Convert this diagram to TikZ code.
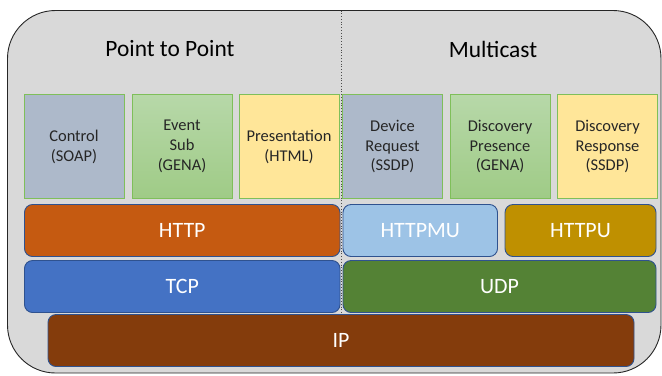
\documentclass[tikz,border=0pt]{standalone}
\usepackage{fontspec}
\setmainfont{Carlito}
\definecolor{outerfill}{HTML}{D9D9D9}
\definecolor{bgray}{HTML}{ADB9CA}
\definecolor{gtop}{HTML}{B7D8A9}
\definecolor{gbot}{HTML}{9FCB86}
\definecolor{ylw}{HTML}{FFE699}
\definecolor{boxedge}{HTML}{7FBF5A}
\definecolor{baredge}{HTML}{2F528F}
\definecolor{httpc}{HTML}{C55A11}
\definecolor{httpmuc}{HTML}{9DC3E6}
\definecolor{httpuc}{HTML}{BF9000}
\definecolor{tcpc}{HTML}{4472C4}
\definecolor{udpc}{HTML}{548235}
\definecolor{ipc}{HTML}{843C0C}
\definecolor{txt}{HTML}{262626}
\begin{document}
\begin{tikzpicture}[x=1bp,y=-1bp,
  protobox/.style={draw=boxedge,line width=0.9bp,inner sep=0pt,outer sep=0pt,anchor=north west,
    minimum width=100bp,minimum height=104bp,text width=96bp,align=center,text=txt,
    font=\fontsize{16.5}{20}\selectfont},
  bar/.style={draw=baredge,line width=0.9bp,rounded corners=8bp,inner sep=0pt,outer sep=0pt,
    anchor=north west,minimum height=52bp,text=white,font=\fontsize{22}{26}\selectfont},
  title/.style={font=\fontsize{23.5}{28}\selectfont,text=black}]
\useasboundingbox (0,0) rectangle (662,375);
\begin{scope}
\clip (0,0) rectangle (662,375);
\draw[fill=outerfill,line width=0.9bp,draw=black!85,rounded corners=48bp] (7.5,10.5) rectangle (661,373);
\end{scope}
\draw[dotted,line width=0.8bp,draw=black!70] (341.5,10.5) -- (341.5,314);
\node[title] (p2p) at (170,49) {Point to Point};
\node[title] (mc) at (493,49) {Multicast};
\node[protobox,fill=bgray] (b1) at (24,94.5) {Control\\(SOAP)};
\node[protobox,top color=gtop,bottom color=gbot] (b2) at (132,94.5) {Event\\Sub\\(GENA)};
\node[protobox,fill=ylw] (b3) at (239,94.5) {Presentation\\(HTML)};
\node[protobox,fill=bgray] (b4) at (342.5,94.5) {Device\\Request\\(SSDP)};
\node[protobox,top color=gtop,bottom color=gbot] (b5) at (450,94.5) {Discovery\\Presence\\(GENA)};
\node[protobox,fill=ylw] (b6) at (557.5,94.5) {Discovery\\Response\\(SSDP)};
\node[bar,fill=httpc,minimum width=315.5bp] (http) at (24.5,204.5) {HTTP};
\node[bar,fill=httpmuc,minimum width=154.5bp] (httpmu) at (343,204.5) {HTTPMU};
\node[bar,fill=httpuc,minimum width=151bp] (httpu) at (505,204.5) {HTTPU};
\node[bar,fill=tcpc,minimum width=315.5bp] (tcp) at (24.5,260.5) {TCP};
\node[bar,fill=udpc,minimum width=313bp] (udp) at (343,260.5) {UDP};
\node[bar,fill=ipc,minimum width=586bp] (ip) at (48,314.5) {IP};
\end{tikzpicture}
\end{document}
